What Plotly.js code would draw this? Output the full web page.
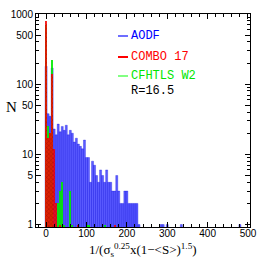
<!DOCTYPE html>
<html>
<head>
<meta charset="utf-8">
<script src="https://cdn.plot.ly/plotly-3.0.1.min.js"></script>
<style>html,body{margin:0;padding:0;background:#fff;}#chart{width:263px;height:263px;}</style>
</head>
<body>
<div id="chart"></div>
<script>
// AODF
const aodfX = [0,5,10,15,20,25,30,35,40,45,50,55,60,65,70,75,80,85,90,95,100,105,110,115,120,125,130,135,140,145,150,155,160,165,170,175,180,185,190,195,200,205,210,215,220,225,230,285,290,300,335,480];
const aodfN = [180,38,35,170,23,19,27,21,25,22,26,19,22,20,15,17,14,13,12,16,9,9,4,8,7,5,4,6,5,4,6,4,4,3,3,5,3,2,2,3,3,2,2,2,2,2,1,1,1,1,1,1];
// COMBO 17
const comboX = [0,5,10,15,20,25,35,80,170];
const comboN = [800,17,20,140,12,2,1,1,1];
// CFHTLS W2
const cfhtX = [0,5,10,15,30,35,40,45,60,65,105,145];
const cfhtN = [700,25,20,220,2,3,4,1,3,1,1,1];

const xTicks = [0,100,200,300,400,500];
const yTicks = [1,5,10,50,100,500,1000];
const yMinor = [2,3,4,6,7,8,9,20,30,40,60,70,80,90,200,300,400,600,700,800,900];

const legendNames = ['AODF','COMBO 17','CFHTLS W2'];
const legendColors = ['rgb(0,0,255)','rgb(255,0,0)','rgb(0,230,0)'];
const legendLineColors = ['rgb(110,110,255)','rgb(255,0,0)','rgb(130,255,130)'];

const traces = [
  {type:'bar', x:aodfX, y:aodfN, width:5, name:'AODF',
   marker:{color:'rgba(30,30,255,0.72)', line:{color:'rgba(0,0,220,0.6)', width:0.5}}},
  {type:'bar', x:cfhtX, y:cfhtN, width:5, name:'CFHTLS W2',
   marker:{color:'rgba(0,235,0,0.9)', line:{width:0}}},
  {type:'bar', x:comboX, y:comboN, width:5, name:'COMBO 17',
   marker:{color:'rgba(255,0,0,0.85)', line:{width:0}, pattern:{shape:'x', fgcolor:'rgba(120,0,0,0.5)', bgcolor:'rgba(255,0,0,0.85)', size:3, solidity:0.3}}}
];

const px2x = p => (p-36)/214;
const py2y = p => (227-p)/213;
const legY = [36,57,76];

const annotations = [];
const shapes = [];
legendNames.forEach((n,i)=>{
  annotations.push({xref:'paper', yref:'paper', x:px2x(129), y:py2y(legY[i]), xanchor:'left', yanchor:'middle',
    text:n, showarrow:false, font:{family:'Liberation Mono', size:12, color:legendColors[i]}});
  shapes.push({type:'line', xref:'paper', yref:'paper', x0:px2x(118), x1:px2x(128), y0:py2y(legY[i]), y1:py2y(legY[i]),
    line:{color:legendLineColors[i], width:2}});
});
annotations.push({xref:'paper', yref:'paper', x:px2x(129), y:py2y(91), xanchor:'left', yanchor:'middle',
  text:'R=16.5', showarrow:false, font:{family:'Liberation Mono', size:12, color:'#000'}});
annotations.push({xref:'paper', yref:'paper', x:px2x(11), y:py2y(107), xanchor:'center', yanchor:'middle',
  text:'N', showarrow:false, font:{family:'Liberation Serif', size:15, color:'#000'}});
annotations.push({xref:'paper', yref:'paper', x:px2x(143), y:py2y(250), xanchor:'center', yanchor:'middle',
  text:'1/(σ<sub>s</sub><sup>0.25</sup>x(1−&lt;S&gt;)<sup>1.5</sup>)', showarrow:false,
  font:{family:'Liberation Serif', size:13, color:'#000'}});

const layout = {
  width:263, height:263,
  margin:{l:36, r:13, t:14, b:36},
  paper_bgcolor:'#fff', plot_bgcolor:'#fff',
  barmode:'overlay', bargap:0,
  showlegend:false,
  xaxis:{range:[-25,505], tickvals:xTicks, ticktext:xTicks.map(String), ticks:'inside', ticklen:5, tickwidth:1, tickcolor:'#000',
    minor:{tick0:0, dtick:20, ticks:'inside', ticklen:3, tickcolor:'#000'},
    ticklabelstandoff:-3,
    showline:true, linecolor:'#000', linewidth:1, mirror:'allticks', showgrid:false, zeroline:false,
    tickfont:{family:'Liberation Sans', size:10, color:'#000'}},
  yaxis:{type:'log', range:[-0.035,3.0], tickvals:yTicks, ticktext:yTicks.map(String), ticks:'inside', ticklen:5, tickwidth:1, tickcolor:'#000',
    minor:{tickmode:'array', tickvals:yMinor, ticks:'inside', ticklen:3, tickcolor:'#000'},
    showline:true, linecolor:'#000', linewidth:1, mirror:'allticks', showgrid:false, zeroline:false,
    tickfont:{family:'Liberation Sans', size:10, color:'#000'}},
  annotations:annotations,
  shapes:shapes
};

Plotly.newPlot('chart', traces, layout, {displayModeBar:false, staticPlot:true});
</script>
</body>
</html>
